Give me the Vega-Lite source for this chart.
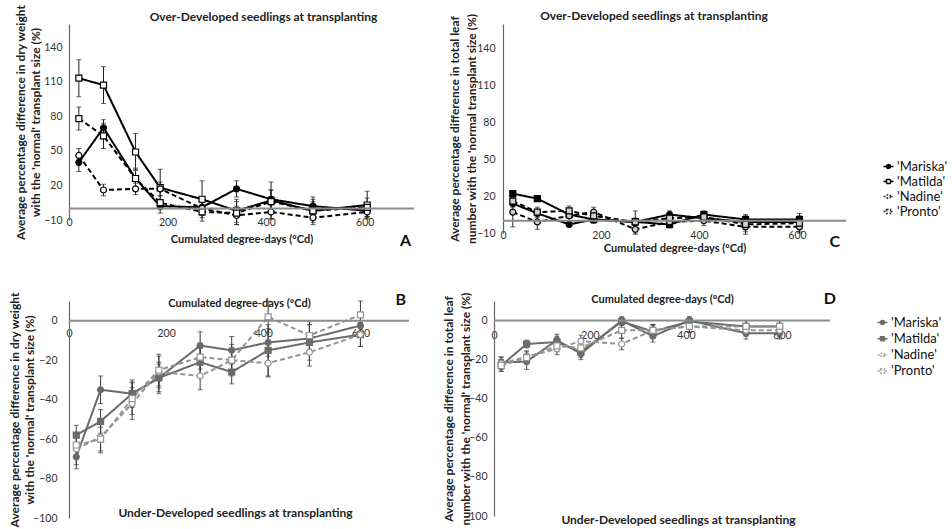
{
  "$schema": "https://vega.github.io/schema/vega-lite/v6.json",
  "padding": {"left": 7, "top": 4, "right": 0, "bottom": 0},
  "background": "white",
  "config": {
    "font": "Lato",
    "view": {"stroke": null},
    "axis": {"grid": false, "labelFont": "Lato", "labelFontSize": 10.5, "labelColor": "#333", "labelOverlap": false, "labelFlush": false, "labelSeparation": -20, "titleFont": "Lato", "titleFontWeight": "bold", "titleColor": "#222", "ticks": false, "tickSize": 0, "domainColor": "#666", "domainWidth": 1.2},
    "axisY": {"labelOverlap": false},
    "title": {"font": "Lato"},
    "legend": {"labelFont": "Lato"}
  },
  "datasets": {
    "dwOver": [
      {"cultivar": "'Mariska'", "gdd": 20, "v": 40, "err": 8}, {"cultivar": "'Mariska'", "gdd": 70, "v": 70, "err": 7}, {"cultivar": "'Mariska'", "gdd": 135, "v": 26, "err": 8}, {"cultivar": "'Mariska'", "gdd": 185, "v": 2, "err": 6}, {"cultivar": "'Mariska'", "gdd": 270, "v": 1, "err": 6}, {"cultivar": "'Mariska'", "gdd": 340, "v": 17, "err": 7}, {"cultivar": "'Mariska'", "gdd": 410, "v": 8, "err": 8}, {"cultivar": "'Mariska'", "gdd": 495, "v": 2, "err": 8}, {"cultivar": "'Mariska'", "gdd": 605, "v": -2, "err": 5},
      {"cultivar": "'Matilda'", "gdd": 20, "v": 113, "err": 16}, {"cultivar": "'Matilda'", "gdd": 70, "v": 107, "err": 16}, {"cultivar": "'Matilda'", "gdd": 135, "v": 49, "err": 16}, {"cultivar": "'Matilda'", "gdd": 185, "v": 18, "err": 16}, {"cultivar": "'Matilda'", "gdd": 270, "v": 8, "err": 16}, {"cultivar": "'Matilda'", "gdd": 340, "v": -2, "err": 10}, {"cultivar": "'Matilda'", "gdd": 410, "v": 7, "err": 16}, {"cultivar": "'Matilda'", "gdd": 495, "v": -2, "err": 10}, {"cultivar": "'Matilda'", "gdd": 605, "v": 3, "err": 12},
      {"cultivar": "'Nadine'", "gdd": 20, "v": 46, "err": 6}, {"cultivar": "'Nadine'", "gdd": 70, "v": 16, "err": 5}, {"cultivar": "'Nadine'", "gdd": 135, "v": 17, "err": 5}, {"cultivar": "'Nadine'", "gdd": 185, "v": 17, "err": 6}, {"cultivar": "'Nadine'", "gdd": 270, "v": 0, "err": 6}, {"cultivar": "'Nadine'", "gdd": 340, "v": -6, "err": 8}, {"cultivar": "'Nadine'", "gdd": 410, "v": -3, "err": 6}, {"cultivar": "'Nadine'", "gdd": 495, "v": -8, "err": 6}, {"cultivar": "'Nadine'", "gdd": 605, "v": -3, "err": 5},
      {"cultivar": "'Pronto'", "gdd": 20, "v": 78, "err": 10}, {"cultivar": "'Pronto'", "gdd": 70, "v": 63, "err": 11}, {"cultivar": "'Pronto'", "gdd": 135, "v": 26, "err": 9}, {"cultivar": "'Pronto'", "gdd": 185, "v": 5, "err": 6}, {"cultivar": "'Pronto'", "gdd": 270, "v": -3, "err": 8}, {"cultivar": "'Pronto'", "gdd": 340, "v": -4, "err": 10}, {"cultivar": "'Pronto'", "gdd": 410, "v": 6, "err": 10}, {"cultivar": "'Pronto'", "gdd": 495, "v": -2, "err": 8}, {"cultivar": "'Pronto'", "gdd": 605, "v": 1, "err": 8}
    ],
    "lnOver": [
      {"cultivar": "'Mariska'", "gdd": 20, "v": 14, "err": 3}, {"cultivar": "'Mariska'", "gdd": 70, "v": 6, "err": 3}, {"cultivar": "'Mariska'", "gdd": 135, "v": -3, "err": 2}, {"cultivar": "'Mariska'", "gdd": 185, "v": 1, "err": 3}, {"cultivar": "'Mariska'", "gdd": 270, "v": -1, "err": 3}, {"cultivar": "'Mariska'", "gdd": 340, "v": 5, "err": 3}, {"cultivar": "'Mariska'", "gdd": 410, "v": 2, "err": 3}, {"cultivar": "'Mariska'", "gdd": 495, "v": -1, "err": 3}, {"cultivar": "'Mariska'", "gdd": 605, "v": -1, "err": 3},
      {"cultivar": "'Matilda'", "gdd": 20, "v": 22, "err": 2}, {"cultivar": "'Matilda'", "gdd": 70, "v": 18, "err": 2}, {"cultivar": "'Matilda'", "gdd": 135, "v": 5, "err": 3}, {"cultivar": "'Matilda'", "gdd": 185, "v": 1, "err": 3}, {"cultivar": "'Matilda'", "gdd": 270, "v": -1, "err": 3}, {"cultivar": "'Matilda'", "gdd": 340, "v": -3, "err": 3}, {"cultivar": "'Matilda'", "gdd": 410, "v": 5, "err": 3}, {"cultivar": "'Matilda'", "gdd": 495, "v": 1, "err": 3}, {"cultivar": "'Matilda'", "gdd": 605, "v": 1, "err": 3},
      {"cultivar": "'Nadine'", "gdd": 20, "v": 7, "err": 12}, {"cultivar": "'Nadine'", "gdd": 70, "v": -1, "err": 6}, {"cultivar": "'Nadine'", "gdd": 135, "v": 4, "err": 4}, {"cultivar": "'Nadine'", "gdd": 185, "v": 7, "err": 4}, {"cultivar": "'Nadine'", "gdd": 270, "v": -7, "err": 4}, {"cultivar": "'Nadine'", "gdd": 340, "v": -1, "err": 4}, {"cultivar": "'Nadine'", "gdd": 410, "v": 0, "err": 4}, {"cultivar": "'Nadine'", "gdd": 495, "v": -5, "err": 4}, {"cultivar": "'Nadine'", "gdd": 605, "v": -5, "err": 4},
      {"cultivar": "'Pronto'", "gdd": 20, "v": 16, "err": 4}, {"cultivar": "'Pronto'", "gdd": 70, "v": 7, "err": 4}, {"cultivar": "'Pronto'", "gdd": 135, "v": 8, "err": 4}, {"cultivar": "'Pronto'", "gdd": 185, "v": 4, "err": 4}, {"cultivar": "'Pronto'", "gdd": 270, "v": -1, "err": 9}, {"cultivar": "'Pronto'", "gdd": 340, "v": 2, "err": 4}, {"cultivar": "'Pronto'", "gdd": 410, "v": 3, "err": 4}, {"cultivar": "'Pronto'", "gdd": 495, "v": -3, "err": 8}, {"cultivar": "'Pronto'", "gdd": 605, "v": -2, "err": 8}
    ],
    "dwUnder": [
      {"cultivar": "'Mariska'", "gdd": 15, "v": -69, "err": 6}, {"cultivar": "'Mariska'", "gdd": 65, "v": -35, "err": 7}, {"cultivar": "'Mariska'", "gdd": 130, "v": -37, "err": 7}, {"cultivar": "'Mariska'", "gdd": 185, "v": -29, "err": 8}, {"cultivar": "'Mariska'", "gdd": 270, "v": -12.6, "err": 7}, {"cultivar": "'Mariska'", "gdd": 335, "v": -15, "err": 7}, {"cultivar": "'Mariska'", "gdd": 410, "v": -11, "err": 7}, {"cultivar": "'Mariska'", "gdd": 495, "v": -9, "err": 7}, {"cultivar": "'Mariska'", "gdd": 600, "v": -2.5, "err": 6},
      {"cultivar": "'Matilda'", "gdd": 15, "v": -58, "err": 5}, {"cultivar": "'Matilda'", "gdd": 65, "v": -51, "err": 6}, {"cultivar": "'Matilda'", "gdd": 130, "v": -37, "err": 6}, {"cultivar": "'Matilda'", "gdd": 185, "v": -29, "err": 7}, {"cultivar": "'Matilda'", "gdd": 270, "v": -21, "err": 7}, {"cultivar": "'Matilda'", "gdd": 335, "v": -26, "err": 6}, {"cultivar": "'Matilda'", "gdd": 410, "v": -15, "err": 13}, {"cultivar": "'Matilda'", "gdd": 495, "v": -11, "err": 9}, {"cultivar": "'Matilda'", "gdd": 600, "v": -7, "err": 6},
      {"cultivar": "'Nadine'", "gdd": 15, "v": -65, "err": 8}, {"cultivar": "'Nadine'", "gdd": 65, "v": -59, "err": 8}, {"cultivar": "'Nadine'", "gdd": 130, "v": -42, "err": 8}, {"cultivar": "'Nadine'", "gdd": 185, "v": -26, "err": 8}, {"cultivar": "'Nadine'", "gdd": 270, "v": -28, "err": 7}, {"cultivar": "'Nadine'", "gdd": 335, "v": -20, "err": 6}, {"cultivar": "'Nadine'", "gdd": 410, "v": -21.5, "err": 7}, {"cultivar": "'Nadine'", "gdd": 495, "v": -16, "err": 7}, {"cultivar": "'Nadine'", "gdd": 600, "v": -7, "err": 6},
      {"cultivar": "'Pronto'", "gdd": 15, "v": -63, "err": 6}, {"cultivar": "'Pronto'", "gdd": 65, "v": -60, "err": 6}, {"cultivar": "'Pronto'", "gdd": 130, "v": -39.5, "err": 8}, {"cultivar": "'Pronto'", "gdd": 185, "v": -25, "err": 8}, {"cultivar": "'Pronto'", "gdd": 270, "v": -18.5, "err": 6}, {"cultivar": "'Pronto'", "gdd": 335, "v": -20, "err": 8}, {"cultivar": "'Pronto'", "gdd": 410, "v": 2, "err": 8}, {"cultivar": "'Pronto'", "gdd": 495, "v": -7.5, "err": 7}, {"cultivar": "'Pronto'", "gdd": 600, "v": 3, "err": 7}
    ],
    "lnUnder": [
      {"cultivar": "'Mariska'", "gdd": 15, "v": -21.5, "err": 3}, {"cultivar": "'Mariska'", "gdd": 68, "v": -21, "err": 4}, {"cultivar": "'Mariska'", "gdd": 131, "v": -10, "err": 3}, {"cultivar": "'Mariska'", "gdd": 181, "v": -17, "err": 3}, {"cultivar": "'Mariska'", "gdd": 266, "v": 0, "err": 2}, {"cultivar": "'Mariska'", "gdd": 331, "v": -8, "err": 3}, {"cultivar": "'Mariska'", "gdd": 407, "v": 0, "err": 2}, {"cultivar": "'Mariska'", "gdd": 525, "v": -6.5, "err": 3}, {"cultivar": "'Mariska'", "gdd": 595, "v": -6.5, "err": 3},
      {"cultivar": "'Matilda'", "gdd": 15, "v": -23, "err": 3}, {"cultivar": "'Matilda'", "gdd": 68, "v": -12, "err": 2}, {"cultivar": "'Matilda'", "gdd": 131, "v": -11, "err": 3}, {"cultivar": "'Matilda'", "gdd": 181, "v": -16, "err": 3}, {"cultivar": "'Matilda'", "gdd": 266, "v": -0.5, "err": 2}, {"cultivar": "'Matilda'", "gdd": 331, "v": -5.6, "err": 3}, {"cultivar": "'Matilda'", "gdd": 407, "v": -0.5, "err": 2}, {"cultivar": "'Matilda'", "gdd": 525, "v": -3, "err": 3}, {"cultivar": "'Matilda'", "gdd": 595, "v": -3, "err": 3},
      {"cultivar": "'Nadine'", "gdd": 15, "v": -22, "err": 3}, {"cultivar": "'Nadine'", "gdd": 68, "v": -18.5, "err": 3}, {"cultivar": "'Nadine'", "gdd": 131, "v": -14.5, "err": 3}, {"cultivar": "'Nadine'", "gdd": 181, "v": -10.5, "err": 3}, {"cultivar": "'Nadine'", "gdd": 266, "v": -12, "err": 3}, {"cultivar": "'Nadine'", "gdd": 331, "v": -5, "err": 3}, {"cultivar": "'Nadine'", "gdd": 407, "v": -3, "err": 3}, {"cultivar": "'Nadine'", "gdd": 525, "v": -5, "err": 3}, {"cultivar": "'Nadine'", "gdd": 595, "v": -5, "err": 3},
      {"cultivar": "'Pronto'", "gdd": 15, "v": -23, "err": 3}, {"cultivar": "'Pronto'", "gdd": 68, "v": -19, "err": 3}, {"cultivar": "'Pronto'", "gdd": 131, "v": -13, "err": 3}, {"cultivar": "'Pronto'", "gdd": 181, "v": -14, "err": 3}, {"cultivar": "'Pronto'", "gdd": 266, "v": -5, "err": 4}, {"cultivar": "'Pronto'", "gdd": 331, "v": -5, "err": 3}, {"cultivar": "'Pronto'", "gdd": 407, "v": -3, "err": 3}, {"cultivar": "'Pronto'", "gdd": 525, "v": -3, "err": 3}, {"cultivar": "'Pronto'", "gdd": 595, "v": -3, "err": 3}
    ],
    "legendRows": [{"lg": "'Mariska'"}, {"lg": "'Matilda'"}, {"lg": "'Nadine'"}, {"lg": "'Pronto'"}]
  },
  "spacing": 38,
  "align": "none",
  "resolve": {"scale": {"shape": "independent", "fill": "independent", "stroke": "independent", "strokeDash": "independent", "color": "independent"}, "legend": {"shape": "independent", "fill": "independent", "stroke": "independent", "strokeDash": "independent", "color": "independent"}},
  "vconcat": [
    {
      "spacing": 89,
      "bounds": "flush",
      "resolve": {"scale": {"shape": "independent", "fill": "independent", "stroke": "independent", "strokeDash": "independent", "color": "independent"}, "legend": {"shape": "independent", "fill": "independent", "stroke": "independent", "strokeDash": "independent", "color": "independent"}},
      "hconcat": [
        {
          "width": 345, "height": 196,
          "title": {"text": "A", "orient": "bottom", "anchor": "end", "frame": "group", "dx": -3, "offset": -11, "fontSize": 16, "fontWeight": "bold", "color": "#111"},
          "layer": [
            {
              "data": {"name": "dwOver"},
              "encoding": {
                "x": {"field": "gdd", "type": "quantitative", "scale": {"domain": [0, 700], "nice": false}, "axis": {"values": [0, 200, 400, 600], "domain": false, "labelOverlap": false, "labelPadding": -3, "title": "Cumulated degree-days (ºCd)", "titleFontSize": 11, "titleY": 19, "titleBaseline": "middle"}},
                "y": {"field": "v", "type": "quantitative", "scale": {"domain": [-10, 160], "nice": false}, "axis": {"values": [-10, 20, 50, 80, 110, 140], "labelOverlap": false, "labelSeparation": -20, "labelPadding": 7, "title": ["Average percentage difference in dry weight", "with the 'normal' transplant size (%)"], "titleFontSize": 12, "titleX": -49, "titleBaseline": "middle", "titleLineHeight": 15}}
              },
              "layer": [
                {"mark": {"type": "errorbar", "ticks": {"size": 5}, "color": "#222", "thickness": 1}, "encoding": {"yError": {"field": "err"}}},
                {"mark": {"type": "line", "color": "black", "strokeWidth": 2}, "encoding": {"strokeDash": {"field": "cultivar", "type": "nominal", "scale": {"domain": ["'Mariska'", "'Matilda'", "'Nadine'", "'Pronto'"], "range": [[1, 0], [1, 0], [5, 3], [5, 3]]}, "legend": null}}},
                {"mark": {"type": "point", "stroke": "black", "strokeWidth": 1.2, "size": 36, "opacity": 1}, "encoding": {
                  "shape": {"field": "cultivar", "type": "nominal", "scale": {"domain": ["'Mariska'", "'Matilda'", "'Nadine'", "'Pronto'"], "range": ["circle", "square", "circle", "square"]}, "legend": null},
                  "fill": {"field": "cultivar", "type": "nominal", "scale": {"domain": ["'Mariska'", "'Matilda'", "'Nadine'", "'Pronto'"], "range": ["black", "white", "white", "white"]}, "legend": null}}}
              ]
            },
            {
              "data": {"values": [{}]},
              "mark": {"type": "rule", "color": "#8c8c8c", "strokeWidth": 2},
              "encoding": {
                "x": {"datum": 0, "type": "quantitative", "scale": {"domain": [0, 700], "nice": false}, "axis": {"orient": "top", "labels": false, "domain": false, "title": "Over-Developed seedlings at transplanting", "titleFontSize": 12, "titleY": -8, "titleX": 194, "titleBaseline": "middle"}},
                "x2": {"datum": 700},
                "y": {"datum": 0, "type": "quantitative", "scale": {"domain": [-10, 160], "nice": false}, "axis": {"values": [-10, 20, 50, 80, 110, 140], "labelOverlap": false, "labelSeparation": -20, "labelPadding": 7, "title": ["Average percentage difference in dry weight", "with the 'normal' transplant size (%)"], "titleFontSize": 12, "titleX": -49, "titleBaseline": "middle", "titleLineHeight": 15}}
              }
            }
          ],
          "resolve": {"scale": {"x": "independent"}}
        },
        {
          "width": 343, "height": 209,
          "title": {"text": "C", "orient": "bottom", "anchor": "end", "frame": "group", "dx": -6, "offset": -19, "fontSize": 16, "fontWeight": "bold", "color": "#111"},
          "layer": [
            {
              "data": {"name": "lnOver"},
              "encoding": {
                "x": {"field": "gdd", "type": "quantitative", "scale": {"domain": [0, 700], "nice": false}, "axis": {"values": [0, 200, 400, 600], "domain": false, "labelOverlap": false, "labelPadding": -3, "title": "Cumulated degree-days (ºCd)", "titleFontSize": 11, "titleY": 15, "titleBaseline": "middle"}},
                "y": {"field": "v", "type": "quantitative", "scale": {"domain": [-10, 160], "nice": false}, "axis": {"values": [-10, 20, 50, 80, 110, 140], "labelOverlap": false, "labelPadding": 8, "title": ["Average percentage difference in total leaf", "number with the 'normal transplant size (%)"], "titleFontSize": 12, "titleX": -49, "titleBaseline": "middle", "titleLineHeight": 17}}
              },
              "layer": [
                {"mark": {"type": "errorbar", "ticks": {"size": 5}, "color": "#222", "thickness": 1}, "encoding": {"yError": {"field": "err"}}},
                {"mark": {"type": "line", "color": "black", "strokeWidth": 2}, "encoding": {"strokeDash": {"field": "cultivar", "type": "nominal", "scale": {"domain": ["'Mariska'", "'Matilda'", "'Nadine'", "'Pronto'"], "range": [[1, 0], [1, 0], [5, 3], [5, 3]]}, "legend": null}}},
                {"mark": {"type": "point", "stroke": "black", "strokeWidth": 1.2, "size": 36, "opacity": 1}, "encoding": {
                  "shape": {"field": "cultivar", "type": "nominal", "scale": {"domain": ["'Mariska'", "'Matilda'", "'Nadine'", "'Pronto'"], "range": ["circle", "square", "circle", "square"]}, "legend": null},
                  "fill": {"field": "cultivar", "type": "nominal", "scale": {"domain": ["'Mariska'", "'Matilda'", "'Nadine'", "'Pronto'"], "range": ["black", "black", "#cfcfcf", "#cfcfcf"]}, "legend": null}}}
              ]
            },
            {
              "data": {"values": [{}]},
              "mark": {"type": "rule", "color": "#8c8c8c", "strokeWidth": 2},
              "encoding": {
                "x": {"datum": 0, "type": "quantitative", "scale": {"domain": [0, 700], "nice": false}, "axis": {"orient": "top", "labels": false, "domain": false, "title": "Over-Developed seedlings at transplanting", "titleFontSize": 12, "titleY": -9, "titleX": 150.5, "titleBaseline": "middle"}},
                "x2": {"datum": 700},
                "y": {"datum": 0, "type": "quantitative", "scale": {"domain": [-10, 160], "nice": false}, "axis": {"values": [-10, 20, 50, 80, 110, 140], "labelOverlap": false, "labelPadding": 8, "title": ["Average percentage difference in total leaf", "number with the 'normal transplant size (%)"], "titleFontSize": 12, "titleX": -49, "titleBaseline": "middle", "titleLineHeight": 17}}
              }
            },
            {
              "data": {"name": "legendRows"},
              "mark": {"type": "point", "size": 0, "strokeWidth": 1.5},
              "encoding": {
                "shape": {"field": "lg", "type": "nominal", "scale": {"domain": ["'Mariska'", "'Matilda'", "'Nadine'", "'Pronto'"], "range": ["M-1,0H-0.4M0.4,0H1M0.4,0A0.4,0.4 0 1 1 -0.4,0A0.4,0.4 0 1 1 0.4,0Z", "M-1,0H-0.4M0.4,0H1M-0.4,-0.4H0.4V0.4H-0.4Z", "M-1,0H-0.4M0.4,0H1M0.4,0A0.4,0.4 0 1 1 -0.4,0A0.4,0.4 0 1 1 0.4,0Z", "M-1,0H-0.4M0.4,0H1M-0.4,-0.4H0.4V0.4H-0.4Z"]},
                  "legend": {"orient": "none", "legendX": 379, "legendY": 136, "title": null, "labelFontSize": 13, "labelColor": "#111", "rowPadding": 1, "symbolSize": 100, "labelOffset": 2, "symbolOpacity": 1, "symbolStrokeWidth": 1.5}},
                "fill": {"field": "lg", "type": "nominal", "scale": {"domain": ["'Mariska'", "'Matilda'", "'Nadine'", "'Pronto'"], "range": ["black", "white", "white", "white"]},
                  "legend": {"orient": "none", "legendX": 379, "legendY": 136, "title": null, "labelFontSize": 13, "labelColor": "#111", "rowPadding": 1, "symbolSize": 100, "labelOffset": 2, "symbolOpacity": 1, "symbolStrokeWidth": 1.5}},
                "stroke": {"field": "lg", "type": "nominal", "scale": {"domain": ["'Mariska'", "'Matilda'", "'Nadine'", "'Pronto'"], "range": ["black", "black", "#333", "#333"]},
                  "legend": {"orient": "none", "legendX": 379, "legendY": 136, "title": null, "labelFontSize": 13, "labelColor": "#111", "rowPadding": 1, "symbolSize": 100, "labelOffset": 2, "symbolOpacity": 1, "symbolStrokeWidth": 1.5}},
                "strokeDash": {"field": "lg", "type": "nominal", "scale": {"domain": ["'Mariska'", "'Matilda'", "'Nadine'", "'Pronto'"], "range": [[1, 0], [1, 0], [2, 1.5], [2, 1.5]]},
                  "legend": {"orient": "none", "legendX": 379, "legendY": 136, "title": null, "labelFontSize": 13, "labelColor": "#111", "rowPadding": 1, "symbolSize": 100, "labelOffset": 2, "symbolOpacity": 1, "symbolStrokeWidth": 1.5}}
              }
            }
          ],
          "resolve": {"scale": {"x": "independent", "shape": "independent", "fill": "independent", "stroke": "independent", "strokeDash": "independent"}}
        }
      ]
    },
    {
      "spacing": 85,
      "bounds": "flush",
      "resolve": {"scale": {"shape": "independent", "fill": "independent", "stroke": "independent", "strokeDash": "independent", "color": "independent"}, "legend": {"shape": "independent", "fill": "independent", "stroke": "independent", "strokeDash": "independent", "color": "independent"}},
      "hconcat": [
        {
          "width": 340, "height": 217,
          "title": {"text": "B", "orient": "top", "anchor": "end", "frame": "group", "dx": -3, "offset": -16, "fontSize": 16, "fontWeight": "bold", "color": "#111"},
          "layer": [
            {
              "data": {"name": "dwUnder"},
              "encoding": {
                "x": {"field": "gdd", "type": "quantitative", "scale": {"domain": [0, 700], "nice": false}, "axis": {"orient": "top", "values": [0, 200, 400, 600], "domain": false, "labelOverlap": false, "labelPadding": -32, "labelBaseline": "middle", "title": "Cumulated degree-days (ºCd)", "titleFontSize": 11, "titleY": 2, "titleBaseline": "middle"}},
                "y": {"field": "v", "type": "quantitative", "scale": {"domain": [-100, 10], "nice": false}, "axis": {"values": [-100, -80, -60, -40, -20, 0], "labelOverlap": false, "labelPadding": 12, "title": ["Average percentage difference in dry weight", "with the 'normal' transplant size (%)"], "titleFontSize": 12, "titleX": -55, "titleBaseline": "middle", "titleLineHeight": 15}}
              },
              "layer": [
                {"mark": {"type": "errorbar", "ticks": {"size": 5}, "color": "#3a3a3a", "thickness": 1}, "encoding": {"yError": {"field": "err"}}},
                {"mark": {"type": "line", "strokeWidth": 2}, "encoding": {
                  "strokeDash": {"field": "cultivar", "type": "nominal", "scale": {"domain": ["'Mariska'", "'Matilda'", "'Nadine'", "'Pronto'"], "range": [[1, 0], [1, 0], [5, 3], [5, 3]]}, "legend": null},
                  "stroke": {"field": "cultivar", "type": "nominal", "scale": {"domain": ["'Mariska'", "'Matilda'", "'Nadine'", "'Pronto'"], "range": ["#6b6b6b", "#6b6b6b", "#949494", "#949494"]}, "legend": null}}},
                {"mark": {"type": "point", "strokeWidth": 1.2, "size": 36, "opacity": 1}, "encoding": {
                  "shape": {"field": "cultivar", "type": "nominal", "scale": {"domain": ["'Mariska'", "'Matilda'", "'Nadine'", "'Pronto'"], "range": ["circle", "square", "circle", "square"]}, "legend": null},
                  "stroke": {"field": "cultivar", "type": "nominal", "scale": {"domain": ["'Mariska'", "'Matilda'", "'Nadine'", "'Pronto'"], "range": ["#6b6b6b", "#6b6b6b", "#949494", "#949494"]}, "legend": null},
                  "fill": {"field": "cultivar", "type": "nominal", "scale": {"domain": ["'Mariska'", "'Matilda'", "'Nadine'", "'Pronto'"], "range": ["#6b6b6b", "#6b6b6b", "white", "white"]}, "legend": null}}}
              ]
            },
            {
              "data": {"values": [{}]},
              "mark": {"type": "rule", "color": "#8c8c8c", "strokeWidth": 2},
              "encoding": {
                "x": {"datum": 0, "type": "quantitative", "scale": {"domain": [0, 700], "nice": false}, "axis": {"orient": "bottom", "labels": false, "domain": false, "title": "Under-Developed seedlings at transplanting", "titleFontSize": 12, "titleY": -6, "titleX": 166, "titleBaseline": "middle"}},
                "x2": {"datum": 700},
                "y": {"datum": 0, "type": "quantitative", "scale": {"domain": [-100, 10], "nice": false}, "axis": {"values": [-100, -80, -60, -40, -20, 0], "labelOverlap": false, "labelPadding": 12, "title": ["Average percentage difference in dry weight", "with the 'normal' transplant size (%)"], "titleFontSize": 12, "titleX": -55, "titleBaseline": "middle", "titleLineHeight": 15}}
              }
            }
          ],
          "resolve": {"scale": {"x": "independent"}}
        },
        {
          "width": 336, "height": 215,
          "title": {"text": "D", "orient": "top", "anchor": "end", "frame": "group", "dx": 6, "offset": -15.5, "fontSize": 16, "fontWeight": "bold", "color": "#111"},
          "layer": [
            {
              "data": {"name": "lnUnder"},
              "encoding": {
                "x": {"field": "gdd", "type": "quantitative", "scale": {"domain": [0, 700], "nice": false}, "axis": {"orient": "top", "values": [0, 200, 400, 600], "domain": false, "labelOverlap": false, "labelPadding": -34, "labelBaseline": "middle", "title": "Cumulated degree-days (ºCd)", "titleFontSize": 11, "titleY": -2, "titleBaseline": "middle"}},
                "y": {"field": "v", "type": "quantitative", "scale": {"domain": [-100, 10], "nice": false}, "axis": {"values": [-100, -80, -60, -40, -20, 0], "labelOverlap": false, "labelPadding": 7, "title": ["Average percentage difference in total leaf", "number with the 'normal' transplant size (%)"], "titleFontSize": 12, "titleX": -46, "titleBaseline": "middle", "titleLineHeight": 17}}
              },
              "layer": [
                {"mark": {"type": "errorbar", "ticks": {"size": 5}, "color": "#3a3a3a", "thickness": 1}, "encoding": {"yError": {"field": "err"}}},
                {"mark": {"type": "line", "strokeWidth": 2}, "encoding": {
                  "strokeDash": {"field": "cultivar", "type": "nominal", "scale": {"domain": ["'Mariska'", "'Matilda'", "'Nadine'", "'Pronto'"], "range": [[1, 0], [1, 0], [5, 3], [5, 3]]}, "legend": null},
                  "stroke": {"field": "cultivar", "type": "nominal", "scale": {"domain": ["'Mariska'", "'Matilda'", "'Nadine'", "'Pronto'"], "range": ["#6b6b6b", "#6b6b6b", "#949494", "#949494"]}, "legend": null}}},
                {"mark": {"type": "point", "strokeWidth": 1.2, "size": 36, "opacity": 1}, "encoding": {
                  "shape": {"field": "cultivar", "type": "nominal", "scale": {"domain": ["'Mariska'", "'Matilda'", "'Nadine'", "'Pronto'"], "range": ["circle", "square", "circle", "square"]}, "legend": null},
                  "stroke": {"field": "cultivar", "type": "nominal", "scale": {"domain": ["'Mariska'", "'Matilda'", "'Nadine'", "'Pronto'"], "range": ["#6b6b6b", "#6b6b6b", "#949494", "#949494"]}, "legend": null},
                  "fill": {"field": "cultivar", "type": "nominal", "scale": {"domain": ["'Mariska'", "'Matilda'", "'Nadine'", "'Pronto'"], "range": ["#6b6b6b", "#6b6b6b", "white", "white"]}, "legend": null}}}
              ]
            },
            {
              "data": {"values": [{}]},
              "mark": {"type": "rule", "color": "#8c8c8c", "strokeWidth": 2},
              "encoding": {
                "x": {"datum": 0, "type": "quantitative", "scale": {"domain": [0, 700], "nice": false}, "axis": {"orient": "bottom", "labels": false, "domain": false, "title": "Under-Developed seedlings at transplanting", "titleFontSize": 12, "titleY": 3, "titleX": 184, "titleBaseline": "middle"}},
                "x2": {"datum": 700},
                "y": {"datum": 0, "type": "quantitative", "scale": {"domain": [-100, 10], "nice": false}, "axis": {"values": [-100, -80, -60, -40, -20, 0], "labelOverlap": false, "labelPadding": 7, "title": ["Average percentage difference in total leaf", "number with the 'normal' transplant size (%)"], "titleFontSize": 12, "titleX": -46, "titleBaseline": "middle", "titleLineHeight": 17}}
              }
            },
            {
              "data": {"name": "legendRows"},
              "mark": {"type": "point", "size": 0, "strokeWidth": 1.5},
              "encoding": {
                "shape": {"field": "lg", "type": "nominal", "scale": {"domain": ["'Mariska'", "'Matilda'", "'Nadine'", "'Pronto'"], "range": ["M-1,0H-0.4M0.4,0H1M0.4,0A0.4,0.4 0 1 1 -0.4,0A0.4,0.4 0 1 1 0.4,0Z", "M-1,0H-0.4M0.4,0H1M-0.4,-0.4H0.4V0.4H-0.4Z", "M-1,0H-0.4M0.4,0H1M0.4,0A0.4,0.4 0 1 1 -0.4,0A0.4,0.4 0 1 1 0.4,0Z", "M-1,0H-0.4M0.4,0H1M-0.4,-0.4H0.4V0.4H-0.4Z"]},
                  "legend": {"orient": "none", "legendX": 382, "legendY": 15, "title": null, "labelFontSize": 13, "labelColor": "#111", "rowPadding": 2.2, "symbolSize": 100, "labelOffset": 2, "symbolOpacity": 1, "symbolStrokeWidth": 1.5}},
                "fill": {"field": "lg", "type": "nominal", "scale": {"domain": ["'Mariska'", "'Matilda'", "'Nadine'", "'Pronto'"], "range": ["#6b6b6b", "#6b6b6b", "white", "white"]},
                  "legend": {"orient": "none", "legendX": 382, "legendY": 15, "title": null, "labelFontSize": 13, "labelColor": "#111", "rowPadding": 2.2, "symbolSize": 100, "labelOffset": 2, "symbolOpacity": 1, "symbolStrokeWidth": 1.5}},
                "stroke": {"field": "lg", "type": "nominal", "scale": {"domain": ["'Mariska'", "'Matilda'", "'Nadine'", "'Pronto'"], "range": ["#6b6b6b", "#6b6b6b", "#a0a0a0", "#a0a0a0"]},
                  "legend": {"orient": "none", "legendX": 382, "legendY": 15, "title": null, "labelFontSize": 13, "labelColor": "#111", "rowPadding": 2.2, "symbolSize": 100, "labelOffset": 2, "symbolOpacity": 1, "symbolStrokeWidth": 1.5}},
                "strokeDash": {"field": "lg", "type": "nominal", "scale": {"domain": ["'Mariska'", "'Matilda'", "'Nadine'", "'Pronto'"], "range": [[1, 0], [1, 0], [2, 1.5], [2, 1.5]]},
                  "legend": {"orient": "none", "legendX": 382, "legendY": 15, "title": null, "labelFontSize": 13, "labelColor": "#111", "rowPadding": 2.2, "symbolSize": 100, "labelOffset": 2, "symbolOpacity": 1, "symbolStrokeWidth": 1.5}}
              }
            }
          ],
          "resolve": {"scale": {"x": "independent", "shape": "independent", "fill": "independent", "stroke": "independent", "strokeDash": "independent"}}
        }
      ]
    }
  ]
}
